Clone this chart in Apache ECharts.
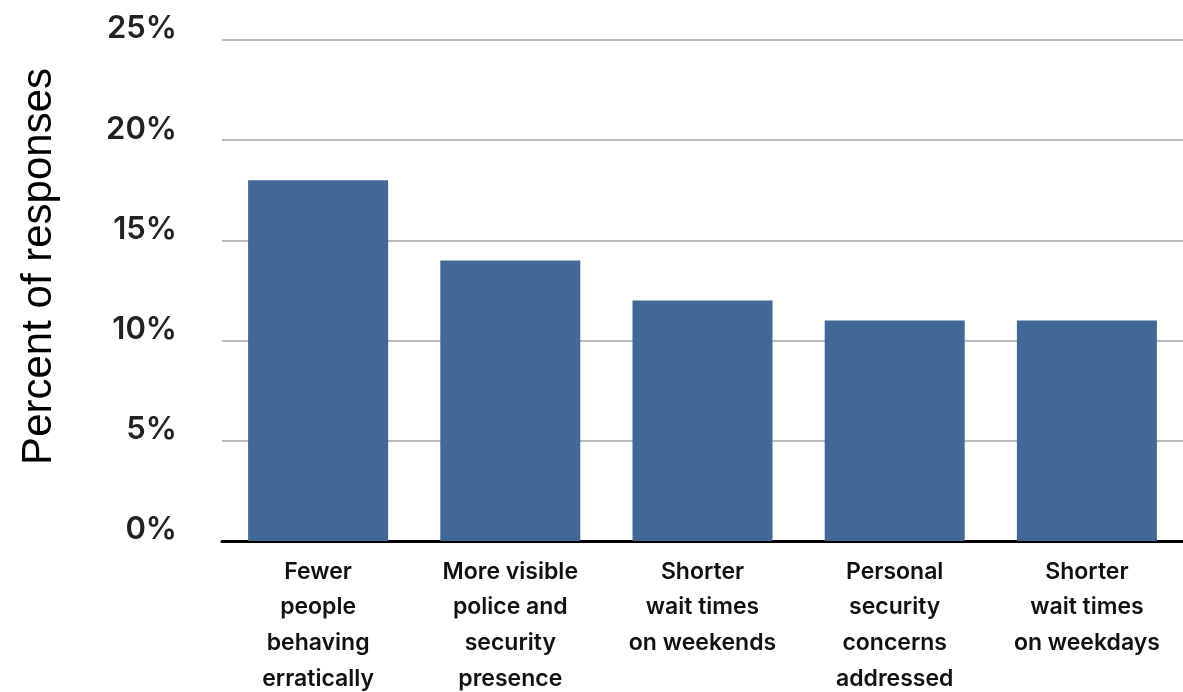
<!DOCTYPE html>
<html>
<head>
<meta charset="utf-8">
<script src="https://cdn.jsdelivr.net/npm/echarts@6/dist/echarts.min.js"></script>
<style>
  html, body { margin: 0; padding: 0; background: #fff; }
  #chart { width: 1183px; height: 692px; }
</style>
</head>
<body>
<div id="chart"></div>
<script>
// Survey answers and the share of responses for each
const categories = [
  'Fewer\npeople\nbehaving\nerratically',
  'More visible\npolice and\nsecurity\npresence',
  'Shorter\nwait times\non weekends',
  'Personal\nsecurity\nconcerns\naddressed',
  'Shorter\nwait times\non weekdays'
];
const shares = [18, 14, 12, 11, 11];
const yTicks = [0, 5, 10, 15, 20, 25];
const yTitle = 'Percent of responses';

const chart = echarts.init(document.getElementById('chart'));
chart.setOption({
  animation: false,
  grid: { left: 222, right: 0, top: 40, bottom: 151, outerBoundsMode: 'none', containLabel: false },
  xAxis: {
    type: 'category',
    data: categories,
    axisLine: { show: true, lineStyle: { color: '#000', width: 3 } },
    axisTick: { show: false },
    axisLabel: {
      interval: 0,
      margin: 13,
      color: '#111',
      fontFamily: 'Inter',
      fontWeight: 600,
      fontSize: 23,
      lineHeight: 35.7
    }
  },
  yAxis: {
    type: 'value',
    min: yTicks[0],
    max: yTicks[yTicks.length - 1],
    interval: 5,
    axisLine: { show: false },
    axisTick: { show: false },
    splitLine: { lineStyle: { color: '#bbbbbb', width: 2 } },
    axisLabel: {
      margin: 45,
      color: '#222',
      fontFamily: 'Inter',
      fontWeight: 600,
      fontSize: 31,
      // tick labels sit a little above their gridlines
      verticalAlign: 'bottom',
      lineHeight: 22,
      formatter: v => v + '%'
    }
  },
  graphic: [{
    type: 'text',
    left: 18,
    top: 68,
    rotation: Math.PI / 2,
    style: {
      text: yTitle,
      fill: '#000',
      font: '400 42px "Liberation Sans", Arial, sans-serif'
    }
  }],
  series: [{
    type: 'bar',
    data: shares,
    barWidth: 140,
    itemStyle: { color: '#416896' }
  }]
});
</script>
</body>
</html>
